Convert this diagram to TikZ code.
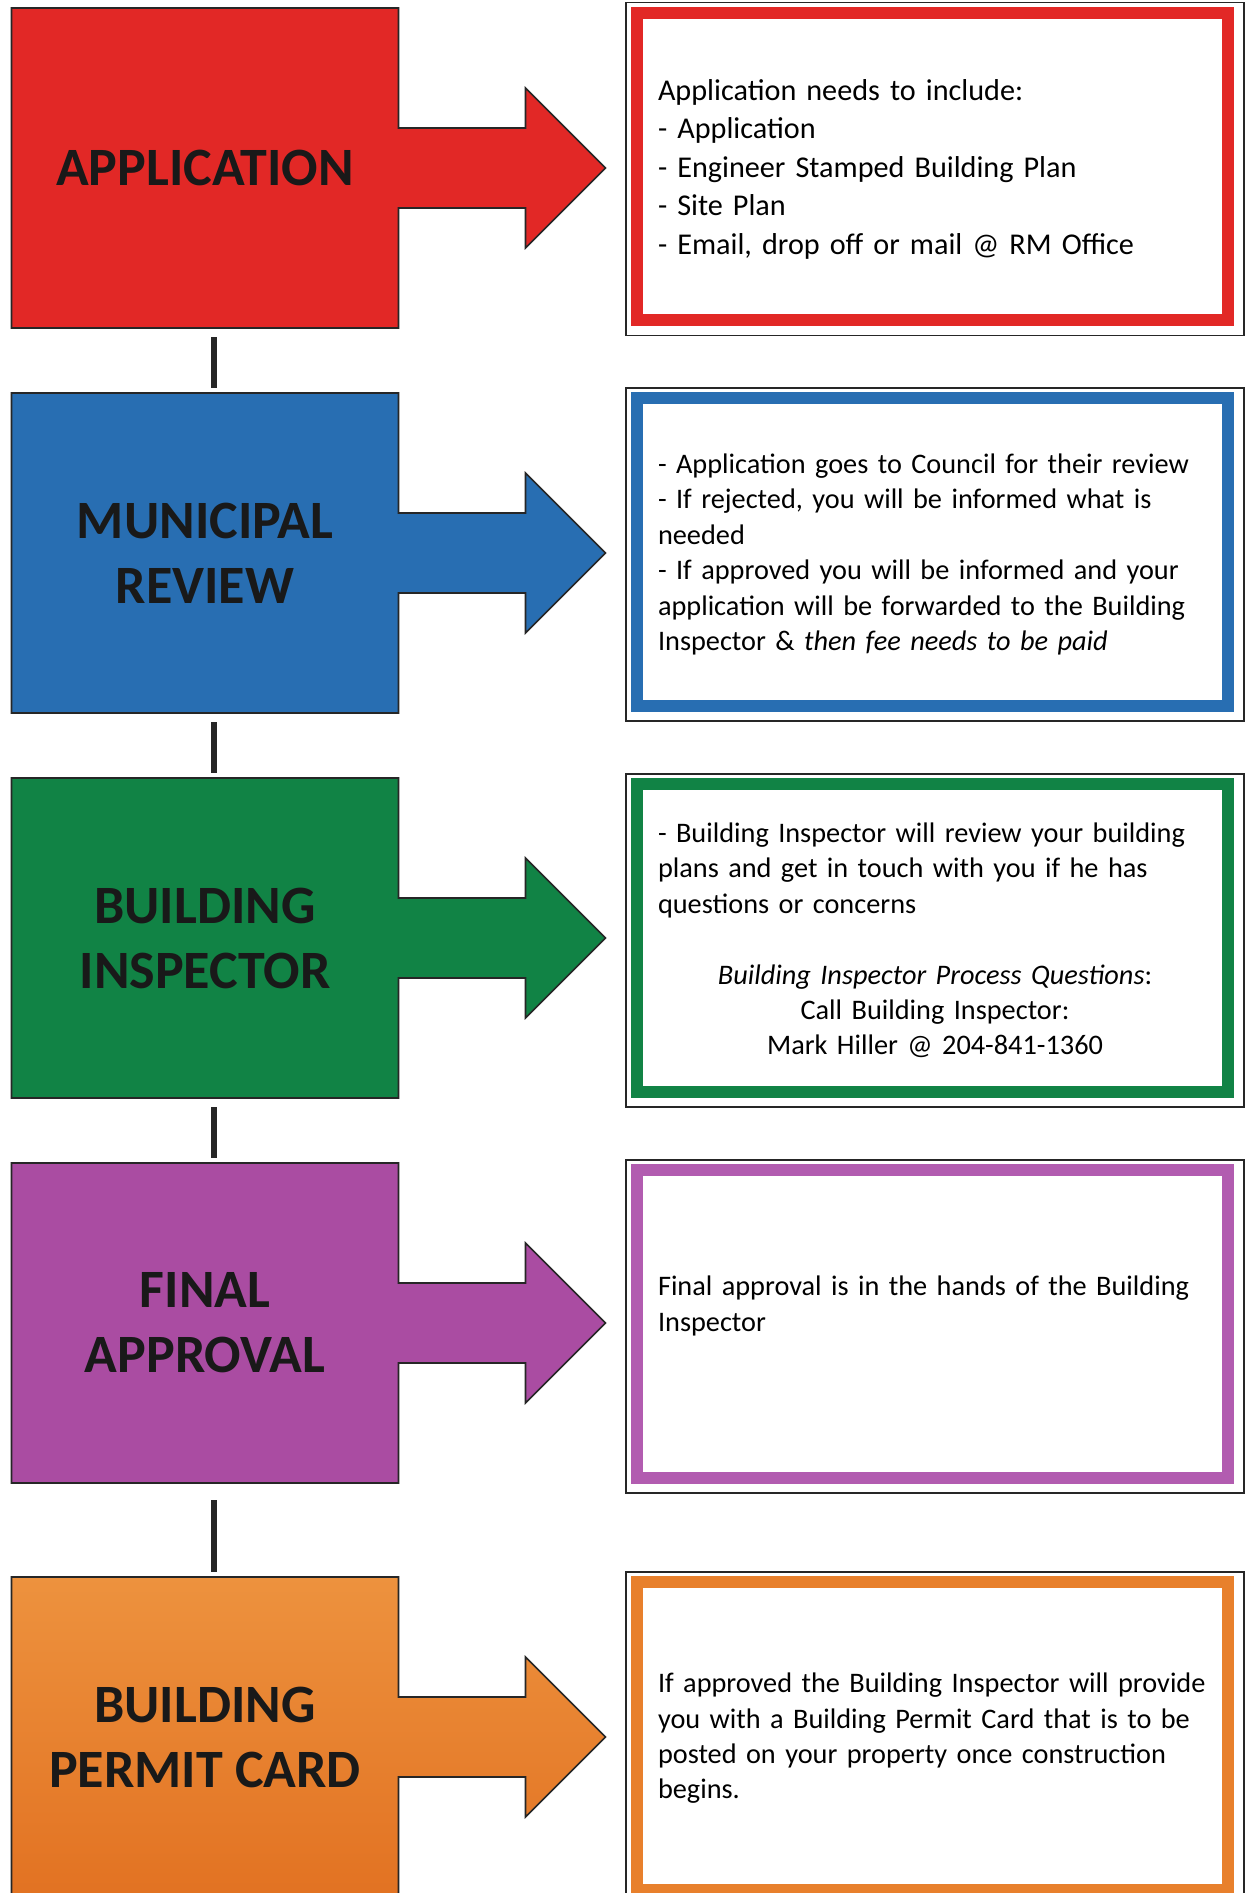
\documentclass[tikz,border=0pt]{standalone}
\usepackage{fontspec}
\setmainfont{Carlito}
\hyphenpenalty=10000

\definecolor{appred}{RGB}{226,40,38}
\definecolor{revblue}{RGB}{40,110,178}
\definecolor{insgreen}{RGB}{17,131,69}
\definecolor{finpurple}{RGB}{170,76,162}
\definecolor{finframe}{RGB}{178,92,176}
\definecolor{cardorange}{RGB}{232,128,44}
\definecolor{cardlight}{RGB}{237,146,62}
\definecolor{carddark}{RGB}{226,114,34}

\begin{document}
\begin{tikzpicture}[x=0.5pt, y=0.5pt,
    stepedge/.style={draw=black!85, line width=0.8pt},
    stepbox/.style={minimum width=193.5pt, minimum height=160pt, inner sep=0pt,
        align=center, text=black!90, font=\fontsize{27}{32.5}\selectfont\bfseries},
    infobox/.style={draw=black!85, line width=0.75pt, minimum width=309pt,
        minimum height=166.5pt, inner sep=0pt, text width=277pt, align=left,
        font=\fontsize{14.15}{17.7}\selectfont},
    frame/.style={line width=6pt},
    link/.style={draw=black!85, line width=2.6pt, shorten <=4.5pt, shorten >=2.5pt}]

    % Page
    \useasboundingbox (0,0) rectangle (1246,1893);
    \clip (0,0) rectangle (1246,1893);
    \fill[white] (0,0) rectangle (1246,1893);

    % Application
    \draw[stepedge, fill=appred] (11.5,1565) -- ++(387,0) -- ++(0,120) -- ++(127,0) -- ++(0,-40)
        -- ++(80,80) -- ++(-80,80) -- ++(0,-40) -- ++(-127,0) -- ++(0,120) -- ++(-387,0) -- cycle;
    \node[stepbox] (app) at (205,1725) {APPLICATION};
    \node[infobox, font=\fontsize{15.1}{19.25}\selectfont] (appinfo) at (935,1724)
        {Application needs to include:\\
         - Application\\
         - Engineer Stamped Building Plan\\
         - Site Plan\\
         - Email, drop off or mail @ RM Office};
    \draw[frame, appred] ([shift={(12,-11)}]appinfo.north west) rectangle ([shift={(-17,16)}]appinfo.south east);

    % Municipal review
    \draw[stepedge, fill=revblue] (11.5,1180) -- ++(387,0) -- ++(0,120) -- ++(127,0) -- ++(0,-40)
        -- ++(80,80) -- ++(-80,80) -- ++(0,-40) -- ++(-127,0) -- ++(0,120) -- ++(-387,0) -- cycle;
    \node[stepbox] (rev) at (205,1340) {MUNICIPAL\\REVIEW};
    \node[infobox] (revinfo) at (935,1338.5)
        {- Application goes to Council for their review\\
         - If rejected, you will be informed what is\\
         needed\\
         - If approved you will be informed and your\\
         application will be forwarded to the Building\\
         Inspector \& \textit{then fee needs to be paid}};
    \draw[frame, revblue] ([shift={(12,-11)}]revinfo.north west) rectangle ([shift={(-17,16)}]revinfo.south east);

    % Building inspector
    \draw[stepedge, fill=insgreen] (11.5,795) -- ++(387,0) -- ++(0,120) -- ++(127,0) -- ++(0,-40)
        -- ++(80,80) -- ++(-80,80) -- ++(0,-40) -- ++(-127,0) -- ++(0,120) -- ++(-387,0) -- cycle;
    \node[stepbox] (ins) at (205,955) {BUILDING\\INSPECTOR};
    \node[infobox] (insinfo) at (935,952.5)
        {- Building Inspector will review your building\\
         plans and get in touch with you if he has\\
         questions or concerns\par\vspace{17.7pt}
         {\centering\textit{Building Inspector Process Questions}:\\
         Call Building Inspector:\\
         Mark Hiller @ 204-841-1360\par}};
    \draw[frame, insgreen] ([shift={(12,-11)}]insinfo.north west) rectangle ([shift={(-17,16)}]insinfo.south east);

    % Final approval
    \draw[stepedge, fill=finpurple] (11.5,410) -- ++(387,0) -- ++(0,120) -- ++(127,0) -- ++(0,-40)
        -- ++(80,80) -- ++(-80,80) -- ++(0,-40) -- ++(-127,0) -- ++(0,120) -- ++(-387,0) -- cycle;
    \node[stepbox] (fin) at (205,570) {FINAL\\APPROVAL};
    \node[infobox] (fininfo) at (935,566.5)
        {Final approval is in the hands of the Building\\
         Inspector\\
         \strut};
    \draw[frame, finframe] ([shift={(12,-11)}]fininfo.north west) rectangle ([shift={(-17,16)}]fininfo.south east);

    % Building permit card
    \draw[stepedge, top color=cardlight, bottom color=carddark] (11.5,-4) -- ++(387,0) -- ++(0,120) -- ++(127,0) -- ++(0,-40)
        -- ++(80,80) -- ++(-80,80) -- ++(0,-40) -- ++(-127,0) -- ++(0,120) -- ++(-387,0) -- cycle;
    \node[stepbox] (card) at (205,156) {BUILDING\\PERMIT CARD};
    \node[infobox] (cardinfo) at (935,154.5)
        {If approved the Building Inspector will provide\\
         you with a Building Permit Card that is to be\\
         posted on your property once construction\\
         begins.};
    \draw[frame, cardorange] ([shift={(12,-11)}]cardinfo.north west) rectangle ([shift={(-17,16)}]cardinfo.south east);

    % Links between the steps
    \draw[link] ([xshift=4.5pt]app.south) -- ([xshift=4.5pt]rev.north);
    \draw[link] ([xshift=4.5pt]rev.south) -- ([xshift=4.5pt]ins.north);
    \draw[link] ([xshift=4.5pt]ins.south) -- ([xshift=4.5pt]fin.north);
    \draw[link, shorten <=8.5pt] ([xshift=4.5pt]fin.south) -- ([xshift=4.5pt]card.north);
\end{tikzpicture}
\end{document}
